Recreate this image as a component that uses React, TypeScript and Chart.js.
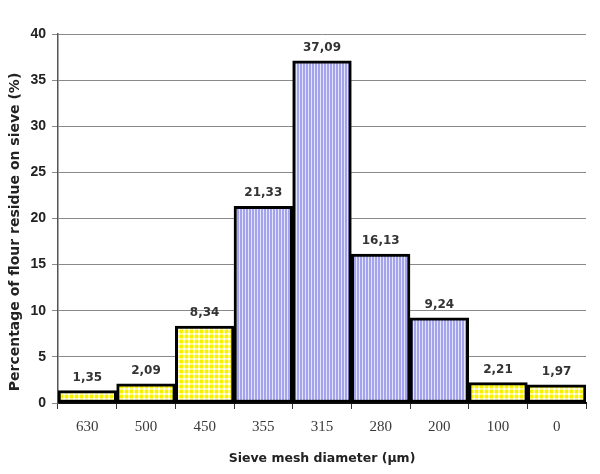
import { useEffect, useRef } from 'react';
import { Chart, registerables } from 'chart.js';

Chart.register(...registerables);

const sieveSizes = ['630', '500', '450', '355', '315', '280', '200', '100', '0'];
const residue = [1.35, 2.09, 8.34, 21.33, 37.09, 16.13, 9.24, 2.21, 1.97];
// 'dots' = yellow checker, 'stripes' = blue vertical stripes
const fillKinds = ['dots', 'dots', 'dots', 'stripes', 'stripes', 'stripes', 'stripes', 'dots', 'dots'];
const yTicks = [0, 5, 10, 15, 20, 25, 30, 35, 40];
const yTitle = 'Percentage of flour residue on sieve (%)';
const xTitle = 'Sieve mesh diameter (µm)';

const SANS = '"DejaVu Sans", Verdana, sans-serif';

function makeDots(ctx: CanvasRenderingContext2D) {
  const c = document.createElement('canvas');
  c.width = 5;
  c.height = 5;
  const g = c.getContext('2d')!;
  g.fillStyle = '#f8f200';
  g.fillRect(0, 0, 5, 5);
  g.fillStyle = '#fdf98a';
  g.fillRect(0, 3, 5, 2);
  g.fillRect(3, 0, 2, 5);
  g.fillStyle = '#ffffff';
  g.fillRect(3, 3, 2, 2);
  return ctx.createPattern(c, 'repeat')!;
}

function makeStripes(ctx: CanvasRenderingContext2D) {
  const c = document.createElement('canvas');
  c.width = 3;
  c.height = 1;
  const g = c.getContext('2d')!;
  g.fillStyle = '#a4a4ee';
  g.fillRect(0, 0, 3, 1);
  g.fillStyle = '#e4e4fb';
  g.fillRect(2, 0, 1, 1);
  return ctx.createPattern(c, 'repeat')!;
}

// value labels above bars + the rotated y title (sits a bit below centre in the original)
const annotations = {
  id: 'annotations',
  afterDatasetsDraw(chart: Chart) {
    const { ctx } = chart;
    const meta = chart.getDatasetMeta(0);
    ctx.save();
    ctx.font = 'bold 12px ' + SANS;
    ctx.fillStyle = '#333333';
    ctx.textAlign = 'center';
    ctx.textBaseline = 'bottom';
    meta.data.forEach((bar: any, i: number) => {
      const txt = residue[i].toFixed(2).replace('.', ',');
      ctx.fillText(txt, bar.x, bar.y - 7);
    });

    ctx.translate(15, 232);
    ctx.rotate(-Math.PI / 2);
    ctx.font = 'bold 14px ' + SANS;
    ctx.fillStyle = '#222222';
    ctx.textBaseline = 'middle';
    ctx.fillText(yTitle, 0, 0);
    ctx.restore();
  },
};

export default function App() {
  const chartRef = useRef<HTMLCanvasElement>(null);
  const chartInstance = useRef<Chart | null>(null);

  useEffect(() => {
    if (!chartRef.current) return;
    if (chartInstance.current) chartInstance.current.destroy();

    const ctx = chartRef.current.getContext('2d');
    if (!ctx) return;

    const dots = makeDots(ctx);
    const stripes = makeStripes(ctx);
    const fills = fillKinds.map(k => (k === 'dots' ? dots : stripes));

    chartInstance.current = new Chart(ctx, {
      type: 'bar',
      data: {
        labels: sieveSizes,
        datasets: [{
          data: residue,
          backgroundColor: fills as any,
          borderColor: '#000000',
          borderWidth: 3,
          borderSkipped: false,
          categoryPercentage: 1,
          barPercentage: 1,
        }],
      },
      options: {
        animation: false,
        responsive: true,
        maintainAspectRatio: false,
        layout: { padding: { top: 34, right: 14, left: 0, bottom: 0 } },
        plugins: {
          legend: { display: false },
          tooltip: { enabled: false },
        },
        scales: {
          x: {
            grid: {
              display: true,
              drawOnChartArea: false,
              drawTicks: true,
              tickLength: 6,
              color: '#333333',
              offset: true,
            },
            border: { color: '#111111', width: 2 },
            ticks: {
              color: '#3a3a3a',
              padding: 9,
              font: { family: '"Liberation Serif", "Times New Roman", serif', size: 15 },
            },
            title: {
              display: true,
              text: xTitle,
              color: '#222222',
              font: { family: SANS, size: 12.5, weight: 'bold' },
              padding: { top: 0, bottom: 8 },
            },
            afterFit(scale: any) { scale.height = 71; },
          },
          y: {
            min: 0,
            max: 40,
            afterBuildTicks(scale: any) { scale.ticks = yTicks.map(v => ({ value: v })); },
            grid: { color: '#8a8a8a', lineWidth: 1, tickLength: 6 },
            border: { color: '#555555', width: 1.5 },
            ticks: {
              color: '#222222',
              padding: 6,
              font: { family: '"Liberation Sans", Arial, sans-serif', size: 14, weight: 'bold' },
            },
            afterFit(scale: any) { scale.width = 58; },
          },
        },
      },
      plugins: [annotations],
    });

    return () => {
      if (chartInstance.current) {
        chartInstance.current.destroy();
        chartInstance.current = null;
      }
    };
  }, []);

  return (
    <div style={{ position: 'absolute', left: 0, top: 0, width: 600, height: 474, background: '#ffffff' }}>
      <canvas ref={chartRef} />
    </div>
  );
}
